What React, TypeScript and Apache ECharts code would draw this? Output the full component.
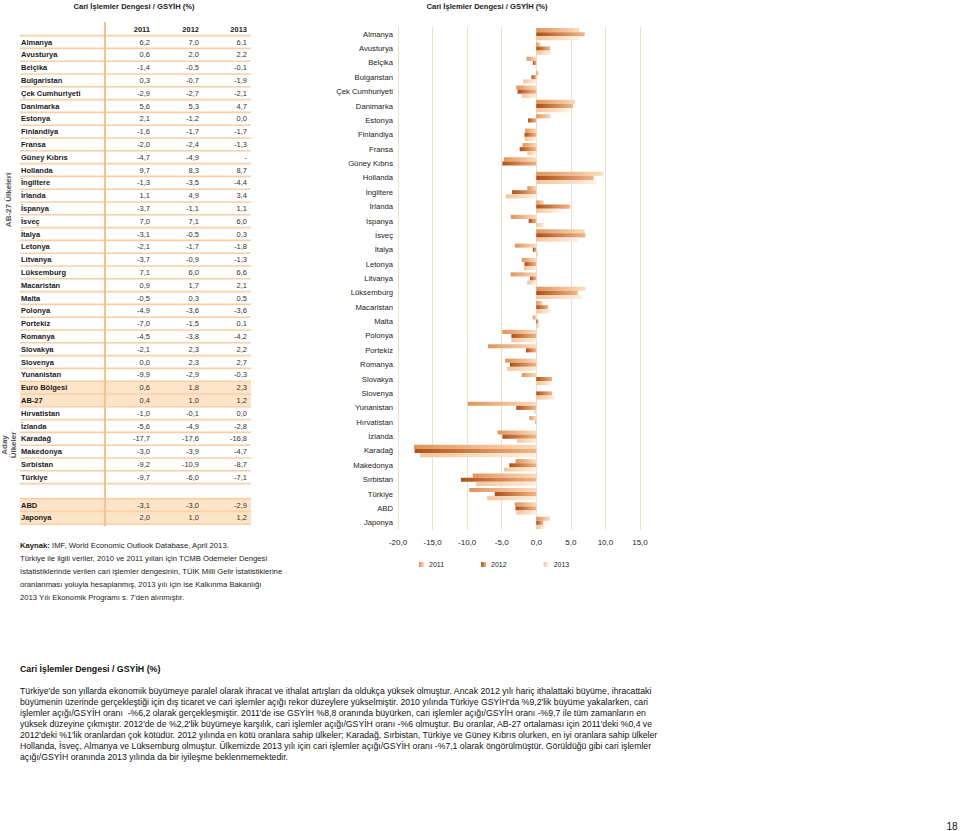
import { useEffect, useRef } from "react";
import * as echarts from "echarts";

const FONT = "'Liberation Sans', Arial, Helvetica, sans-serif";

const pageTitle = "Cari İşlemler Dengesi / GSYİH (%)";
const years = ["2011", "2012", "2013"];

const countries = [
  "Almanya", "Avusturya", "Belçika", "Bulgaristan", "Çek Cumhuriyeti", "Danimarka",
  "Estonya", "Finlandiya", "Fransa", "Güney Kıbrıs", "Hollanda", "İngiltere", "İrlanda",
  "İspanya", "İsveç", "İtalya", "Letonya", "Litvanya", "Lüksemburg", "Macaristan", "Malta",
  "Polonya", "Portekiz", "Romanya", "Slovakya", "Slovenya", "Yunanistan", "Euro Bölgesi",
  "AB-27", "Hırvatistan", "İzlanda", "Karadağ", "Makedonya", "Sırbistan", "Türkiye",
  "ABD", "Japonya",
];
const values2011: (number | null)[] = [
  6.2, 0.6, -1.4, 0.3, -2.9, 5.6, 2.1, -1.6, -2.0, -4.7, 9.7, -1.3, 1.1, -3.7, 7.0, -3.1,
  -2.1, -3.7, 7.1, 0.9, -0.5, -4.9, -7.0, -4.5, -2.1, 0.0, -9.9, 0.6, 0.4, -1.0, -5.6,
  -17.7, -3.0, -9.2, -9.7, -3.1, 2.0,
];
const values2012: (number | null)[] = [
  7.0, 2.0, -0.5, -0.7, -2.7, 5.3, -1.2, -1.7, -2.4, -4.9, 8.3, -3.5, 4.9, -1.1, 7.1, -0.5,
  -1.7, -0.9, 6.0, 1.7, 0.3, -3.6, -1.5, -3.8, 2.3, 2.3, -2.9, 1.8, 1.0, -0.1, -4.9,
  -17.6, -3.9, -10.9, -6.0, -3.0, 1.0,
];
const values2013: (number | null)[] = [
  6.1, 2.2, -0.1, -1.9, -2.1, 4.7, 0.0, -1.7, -1.3, null, 8.7, -4.4, 3.4, 1.1, 6.0, 0.3,
  -1.8, -1.3, 6.6, 2.1, 0.5, -3.6, 0.1, -4.2, 2.2, 2.7, -0.3, 2.3, 1.2, 0.0, -2.8,
  -16.8, -4.7, -8.7, -7.1, -2.9, 1.2,
];

const aggregateRows = ["Euro Bölgesi", "AB-27"];
const shadedRows = ["Euro Bölgesi", "AB-27", "ABD", "Japonya"];
const gapBeforeRow = "ABD";
const groupLabels = ["AB-27 Ülkeleri", "Aday\nÜlkeler"];

const xMin = -20;
const xMax = 15;
const xStep = 5;

const sourceLines = [
  "{b|Kaynak:} IMF, World Economic Outlook Database, April 2013.",
  "Türkiye ile ilgili veriler, 2010 ve 2011 yılları için TCMB Ödemeler Dengesi",
  "İstatistiklerinde verilen cari işlemler dengesinin, TÜİK Milli Gelir İstatistiklerine",
  "oranlanması yoluyla hesaplanmış, 2013 yılı için ise Kalkınma Bakanlığı",
  "2013 Yılı Ekonomik Programı s. 7'den alınmıştır.",
];

const paragraphLines = [
  "Türkiye'de son yıllarda ekonomik büyümeye paralel olarak ihracat ve ithalat artışları da oldukça yüksek olmuştur. Ancak 2012 yılı hariç ithalattaki büyüme, ihracattaki",
  "büyümenin üzerinde gerçekleştiği için dış ticaret ve cari işlemler açığı rekor düzeylere yükselmiştir. 2010 yılında Türkiye GSYİH'da %9,2'lik büyüme yakalarken, cari",
  "işlemler açığı/GSYİH oranı  -%6,2 olarak gerçekleşmiştir. 2011'de ise GSYİH %8,8 oranında büyürken, cari işlemler açığı/GSYİH oranı -%9,7 ile tüm zamanların en",
  "yüksek düzeyine çıkmıştır. 2012'de de %2,2'lik büyümeye karşılık, cari işlemler açığı/GSYİH oranı -%6 olmuştur. Bu oranlar, AB-27 ortalaması için 2011'deki %0,4 ve",
  "2012'deki %1'lik oranlardan çok kötüdür. 2012 yılında en kötü oranlara sahip ülkeler; Karadağ, Sırbistan, Türkiye ve Güney Kıbrıs olurken, en iyi oranlara sahip ülkeler",
  "Hollanda, İsveç, Almanya ve Lüksemburg olmuştur. Ülkemizde 2013 yılı için cari işlemler açığı/GSYİH oranı -%7,1 olarak öngörülmüştür. Görüldüğü gibi cari işlemler",
  "açığı/GSYİH oranında 2013 yılında da bir iyileşme beklenmemektedir.",
];
const pageNumber = "18";

const fmt = (v: number | null) => (v === null ? "-" : v.toFixed(1).replace(".", ","));

function txt(x: number, y: number, text: string, o: any = {}) {
  const align = o.align ?? "left";
  return {
    type: "text",
    x,
    y,
    rotation: o.rotation ?? 0,
    silent: true,
    style: {
      text,
      fill: o.fill ?? "#222",
      fontSize: o.size ?? 8,
      fontWeight: o.bold ? "bold" : "normal",
      fontFamily: FONT,
      align,
      textAlign: align,
      verticalAlign: "middle",
      textVerticalAlign: "middle",
      lineHeight: o.lineHeight,
      rich: o.rich,
    },
  };
}

function buildGraphics() {
  const els: any[] = [];
  const gapIdx = countries.indexOf(gapBeforeRow);
  const pitch = 12.8;
  const rowY = countries.map((_, i) => 42 + i * pitch + (i >= gapIdx ? 15 : 0));
  const tableLeft = 20;
  const tableRight = 251;
  const colRight = [150, 199, 247];
  const half = pitch / 2;

  // shaded rows
  countries.forEach((c, i) => {
    if (shadedRows.includes(c)) {
      els.push({
        type: "rect",
        silent: true,
        shape: { x: tableLeft, y: rowY[i] - half, width: tableRight - tableLeft, height: pitch },
        style: { fill: "#fde4c9" },
      });
    }
  });
  // separators
  const sepYs = new Set<number>();
  countries.forEach((_, i) => {
    sepYs.add(Math.round((rowY[i] - half) * 10) / 10);
    sepYs.add(Math.round((rowY[i] + half) * 10) / 10);
  });
  sepYs.forEach((y) => {
    els.push({
      type: "line",
      silent: true,
      shape: { x1: tableLeft, y1: y, x2: tableRight, y2: y },
      style: { stroke: "#f8d0a4", lineWidth: 1.6 },
    });
  });
  // vertical divider
  els.push({
    type: "line",
    silent: true,
    shape: { x1: 105, y1: 22, x2: 105, y2: rowY[rowY.length - 1] + half + 2 },
    style: { stroke: "#f5c28c", lineWidth: 2 },
  });

  // titles
  els.push(txt(134, 6, pageTitle, { bold: true, size: 7.6, align: "center" }));
  els.push(txt(487, 6, pageTitle, { bold: true, size: 7.6, align: "center" }));

  // header
  years.forEach((yr, j) => els.push(txt(colRight[j], 29, yr, { bold: true, size: 7.5, align: "right" })));

  // rows
  const series = [values2011, values2012, values2013];
  countries.forEach((c, i) => {
    els.push(txt(21, rowY[i], c, { bold: true, size: 7.5, fill: "#1a1a1a" }));
    series.forEach((arr, j) => {
      els.push(txt(colRight[j], rowY[i], fmt(arr[i]), { size: 7.5, align: "right", fill: "#333" }));
    });
  });

  // group labels
  els.push(txt(8, 200, groupLabels[0], { bold: true, size: 8, fill: "#555", align: "center", rotation: Math.PI / 2 }));
  els.push(txt(9, 445, groupLabels[1], { bold: true, size: 8, fill: "#555", align: "center", rotation: Math.PI / 2, lineHeight: 9 }));

  // source
  sourceLines.forEach((l, k) => {
    els.push(txt(20, 545 + k * 13, l, { size: 7.7, fill: "#222", rich: { b: { fontWeight: "bold", fontSize: 7.7, fontFamily: FONT, fill: "#222" } } }));
  });

  // bottom section
  els.push(txt(20, 669, pageTitle, { bold: true, size: 8.8, fill: "#111" }));
  paragraphLines.forEach((l, k) => {
    els.push(txt(20, 691 + k * 11, l, { size: 8.7, fill: "#111" }));
  });
  els.push(txt(952, 826, pageNumber, { size: 10, fill: "#111", align: "center" }));
  return els;
}

const chartRows = countries.map((c, i) => i).filter((i) => !aggregateRows.includes(countries[i]));
const chartCategories = chartRows.map((i) => countries[i]);

export default function App() {
  const ref = useRef<HTMLDivElement>(null);
  useEffect(() => {
    if (!ref.current) return;
    const chart = echarts.init(ref.current, undefined, { renderer: "svg" });
    const grad = (a: string, b: string) =>
      new echarts.graphic.LinearGradient(0, 0, 1, 0, [
        { offset: 0, color: a },
        { offset: 1, color: b },
      ]);
    const colors = [grad("#e0945a", "#fbdcbc"), grad("#ad5018", "#f3b585"), grad("#f3c59b", "#fdf0e2")];
    const seriesArrays = [values2011, values2012, values2013];
    chart.setOption({
      animation: false,
      backgroundColor: "#fff",
      textStyle: { fontFamily: FONT },
      grid: { left: 398, right: 320, top: 27, bottom: 301, containLabel: false },
      legend: {
        data: years,
        left: 414,
        top: 556,
        itemWidth: 5,
        itemHeight: 5,
        itemGap: 37,
        icon: "rect",
        textStyle: { fontSize: 7, color: "#222", fontFamily: FONT },
      },
      xAxis: {
        type: "value",
        min: xMin,
        max: xMax,
        interval: xStep,
        axisLine: { show: false },
        axisTick: { show: false },
        splitLine: { show: true, lineStyle: { color: "#efdfc6", width: 1 } },
        axisLabel: {
          fontSize: 8,
          color: "#222",
          margin: 8,
          fontFamily: FONT,
          formatter: (v: number) => v.toFixed(1).replace(".", ","),
        },
      },
      yAxis: {
        type: "category",
        data: chartCategories,
        inverse: true,
        axisLine: { show: false },
        axisTick: { show: false },
        axisLabel: { interval: 0, fontSize: 7.7, color: "#222", margin: 5, fontFamily: FONT },
      },
      series: years.map((yr, j) => ({
        name: yr,
        type: "bar",
        data: chartRows.map((i) => seriesArrays[j][i]),
        barGap: "0%",
        barCategoryGap: "14%",
        itemStyle: { color: colors[j] },
      })),
      graphic: { elements: buildGraphics() },
    });
    return () => chart.dispose();
  }, []);
  return (
    <div
      ref={ref}
      style={{ position: "absolute", left: 0, top: 0, width: 960, height: 831, background: "#fff" }}
    />
  );
}
